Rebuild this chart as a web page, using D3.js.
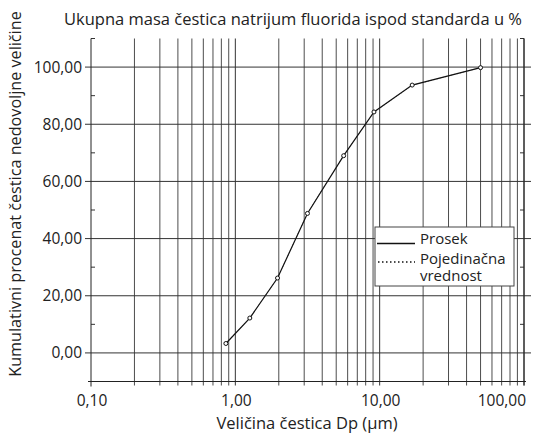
<!DOCTYPE html>
<html>
<head>
<meta charset="utf-8">
<script src="https://cdn.jsdelivr.net/npm/d3@7"></script>
<style>
  body { margin: 0; background: #fff; }
  svg text { font-family: "Open Sans", sans-serif; fill: #222; }
</style>
</head>
<body>
<svg id="chart"></svg>
<script>
const width = 551, height = 436;

// data
const particleSize = [0.86, 1.26, 1.96, 3.16, 5.63, 9.13, 16.8, 50];
const meanValues = [3.3, 12.2, 26.2, 48.8, 69.0, 84.3, 93.7, 99.8];
const singleSize = [0.86, 1.26, 1.96, 3.16, 5.63, 9.13, 16.8, 50];
const singleValues = [3.3, 12.3, 26.1, 48.9, 69.1, 84.2, 93.6, 99.8];
const yTicks = [0, 20, 40, 60, 80, 100];
const yMinor = [10, 30, 50, 70, 90, 110];
const xLabels = [0.1, 1, 10, 100];

const svg = d3.select("#chart").attr("width", width).attr("height", height);

const x = d3.scaleLog().domain([0.1, 100]).range([91, 524]);
const y = d3.scaleLinear().domain([-10, 110]).range([381.5, 38.5]);

const fmt = v => d3.format(".2f")(v).replace(".", ",");

// vertical grid (every log tick)
svg.append("g").selectAll("line")
    .data(x.ticks().filter(d => d > 0.1))
    .enter().append("line")
    .attr("x1", d => x(d)).attr("x2", d => x(d))
    .attr("y1", y(110)).attr("y2", y(-10) + 4)
    .attr("stroke", d => [1, 10, 100].includes(d) ? "#333" : "#4d4d4d")
    .attr("stroke-width", 1);

// horizontal grid
svg.append("g").selectAll("line")
    .data(yTicks)
    .enter().append("line")
    .attr("x1", x(0.1) - 6).attr("x2", x(100) + 7)
    .attr("y1", d => y(d)).attr("y2", d => y(d))
    .attr("stroke", "#333");

// minor y ticks, left and right
svg.append("g").selectAll("line")
    .data(yMinor)
    .enter().append("line")
    .attr("x1", x(0.1)).attr("x2", x(0.1) + 4)
    .attr("y1", d => y(d)).attr("y2", d => y(d))
    .attr("stroke", "#333");
svg.append("g").selectAll("line")
    .data(yMinor)
    .enter().append("line")
    .attr("x1", x(100)).attr("x2", x(100) - 4)
    .attr("y1", d => y(d)).attr("y2", d => y(d))
    .attr("stroke", "#333");

// axis lines
svg.append("line")
    .attr("x1", x(0.1)).attr("x2", x(0.1))
    .attr("y1", y(110)).attr("y2", y(-10) + 5)
    .attr("stroke", "#222");
svg.append("line")
    .attr("x1", x(100)).attr("x2", x(100))
    .attr("y1", y(110)).attr("y2", y(-10) + 4)
    .attr("stroke", "#222");
svg.append("line")
    .attr("x1", x(0.1) - 3).attr("x2", x(100) + 2)
    .attr("y1", y(-10)).attr("y2", y(-10))
    .attr("stroke", "#222");

// tick labels
svg.append("g").selectAll("text")
    .data(yTicks)
    .enter().append("text")
    .attr("x", x(0.1) - 9)
    .attr("y", d => y(d) + 5.5)
    .attr("text-anchor", "end")
    .attr("font-size", "15.5px")
    .text(fmt);

svg.append("g").selectAll("text")
    .data(xLabels)
    .enter().append("text")
    .attr("x", d => d === 100 ? x(d) + 2 : x(d) + 1)
    .attr("y", 406)
    .attr("text-anchor", d => d === 100 ? "end" : "middle")
    .attr("font-size", "15.5px")
    .text(fmt);

// lines
const line = (xs) => d3.line()
    .x((d, i) => x(xs[i]))
    .y(d => y(d));

svg.append("path")
    .datum(singleValues)
    .attr("d", line(singleSize))
    .attr("fill", "none")
    .attr("stroke", "#888")
    .attr("stroke-width", 1)
    .attr("stroke-dasharray", "1,2");

svg.append("path")
    .datum(meanValues)
    .attr("d", line(particleSize))
    .attr("fill", "none")
    .attr("stroke", "#111")
    .attr("stroke-width", 1.2);

svg.append("g").selectAll("circle")
    .data(meanValues)
    .enter().append("circle")
    .attr("cx", (d, i) => x(particleSize[i]))
    .attr("cy", d => y(d))
    .attr("r", 2)
    .attr("fill", "#fff")
    .attr("stroke", "#111")
    .attr("stroke-width", 1);

// legend
const lg = svg.append("g").attr("transform", "translate(375,227)");
lg.append("rect")
    .attr("width", 139).attr("height", 59)
    .attr("fill", "#fff").attr("stroke", "#444");
lg.append("line")
    .attr("x1", 2).attr("x2", 40).attr("y1", 16.5).attr("y2", 16.5)
    .attr("stroke", "#111").attr("stroke-width", 1.5);
lg.append("line")
    .attr("x1", 3).attr("x2", 40).attr("y1", 35).attr("y2", 35)
    .attr("stroke", "#111").attr("stroke-width", 1.5)
    .attr("stroke-dasharray", "1.5,2.5");
lg.append("text")
    .attr("x", 45).attr("y", 17)
    .attr("font-size", "15px")
    .text("Prosek");
const t2 = lg.append("text")
    .attr("x", 45).attr("y", 36.5)
    .attr("font-size", "15px");
t2.append("tspan").text("Pojedinačna");
t2.append("tspan").attr("x", 45).attr("dy", 17).text("vrednost");

// titles
svg.append("text")
    .attr("x", 293).attr("y", 25)
    .attr("text-anchor", "middle")
    .attr("font-size", "16.5px")
    .text("Ukupna masa čestica natrijum fluorida ispod standarda u %");

svg.append("text")
    .attr("x", 307).attr("y", 429)
    .attr("text-anchor", "middle")
    .attr("font-size", "16.5px")
    .text("Veličina čestica Dp (μm)");

svg.append("text")
    .attr("transform", "translate(21,194) rotate(-90)")
    .attr("text-anchor", "middle")
    .attr("font-size", "16.2px")
    .text("Kumulativni procenat čestica nedovoljne veličine");
</script>
</body>
</html>
